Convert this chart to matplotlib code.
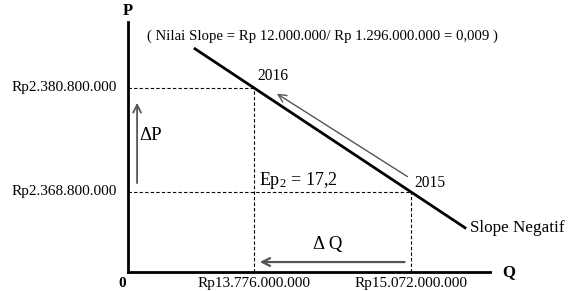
import matplotlib.pyplot as plt

plt.rcParams['font.family'] = ['Liberation Serif', 'DejaVu Serif']
plt.rcParams['mathtext.fontset'] = 'custom'
plt.rcParams['mathtext.rm'] = 'Liberation Serif'
plt.rcParams['mathtext.it'] = 'Liberation Serif'
plt.rcParams['mathtext.default'] = 'rm'

# Data (Rp juta)
q_vals = [13776, 15072]          # Q 2016, Q 2015
p_vals = [2380.8, 2368.8]        # P 2016, P 2015
q_labels = ['Rp13.776.000.000', 'Rp15.072.000.000']
p_labels = ['Rp2.380.800.000', 'Rp2.368.800.000']
years = ['2016', '2015']
demand_q = [13289, 15518]        # ujung garis permintaan
slope = (p_vals[1] - p_vals[0]) / (q_vals[1] - q_vals[0])
demand_p = [p_vals[0] + slope * (q - q_vals[0]) for q in demand_q]
ep_text = 'Ep$_2$ = 17,2'
slope_text = '( Nilai Slope = Rp 12.000.000/ Rp 1.296.000.000 = 0,009 )'

W, H = 568, 291
fig = plt.figure(figsize=(W / 100, H / 100), dpi=100)
ax = fig.add_axes([128 / W, (H - 272) / H, (490 - 128) / W, (272 - 22) / H])
ax.set_xlim(12736, 15724)
ax.set_ylim(2359.57, 2388.4)

for s in ['top', 'right']:
    ax.spines[s].set_visible(False)
for s in ['left', 'bottom']:
    ax.spines[s].set_linewidth(2)
ax.set_xticks([])
ax.set_yticks([])

x0, x1 = ax.get_xlim()
y0, y1 = ax.get_ylim()

# garis putus-putus
dash = dict(color='black', lw=0.8, ls=(0, (3, 2)))
for q, p in zip(q_vals, p_vals):
    ax.plot([x0, q], [p, p], **dash)
    ax.plot([q, q], [y0, p], **dash)

# garis permintaan
ax.plot(demand_q, demand_p, color='black', lw=2)

# label sumbu
for q, lab in zip(q_vals, q_labels):
    ax.text(q, y0 - 0.6, lab, ha='center', va='top', fontsize=11)
for p, lab in zip(p_vals, p_labels):
    ax.text(x0 - 90, p, lab, ha='right', va='center', fontsize=11)
ax.text(x0 - 50, y0 - 0.6, '0', ha='center', va='top', fontsize=11, fontweight='bold')
ax.text(x0, y1 + 0.3, 'P', ha='center', va='bottom', fontsize=12, fontweight='bold', clip_on=False)
ax.text(x1 + 100, y0, 'Q', ha='left', va='center', fontsize=12, fontweight='bold')

# anotasi
ax.text(x0 + 160, y1 - 1.6, slope_text, ha='left', va='center', fontsize=10.6)
ax.text(q_vals[0] + 30, p_vals[0] + 0.4, years[0], ha='left', va='bottom', fontsize=11.2)
ax.text(q_vals[1] + 25, p_vals[1] + 0.1, years[1], ha='left', va='bottom', fontsize=11.2)
ax.text(demand_q[1] + 40, demand_p[1], 'Slope Negatif', ha='left', va='center', fontsize=12.3)
ax.text(q_vals[0] + 45, p_vals[1] + 0.1, ep_text, ha='left', va='bottom', fontsize=13)

arr = dict(arrowstyle='->', color='#555555', lw=1.0, mutation_scale=14)
ax.annotate('', xy=(q_vals[0] + 170, p_vals[0] - 0.5), xytext=(q_vals[1] - 10, p_vals[1] + 1.6),
            arrowprops=arr)
ax.annotate('', xy=(x0 + 75, p_vals[0] - 1.4), xytext=(x0 + 75, p_vals[1] + 0.7),
            arrowprops=dict(arr, lw=1.3))
ax.text(x0 + 95, (p_vals[0] + p_vals[1]) / 2 + 0.5, '\u0394P', ha='left', va='center', fontsize=13.5)
ax.annotate('', xy=(q_vals[0] + 25, y0 + 1.15), xytext=(q_vals[1] - 30, y0 + 1.15),
            arrowprops=dict(arr, lw=1.6))
ax.text((q_vals[0] + q_vals[1]) / 2 - 40, y0 + 2.2, '\u0394 Q', ha='center', va='bottom', fontsize=13.5)

fig.savefig('out.png', dpi=100)
